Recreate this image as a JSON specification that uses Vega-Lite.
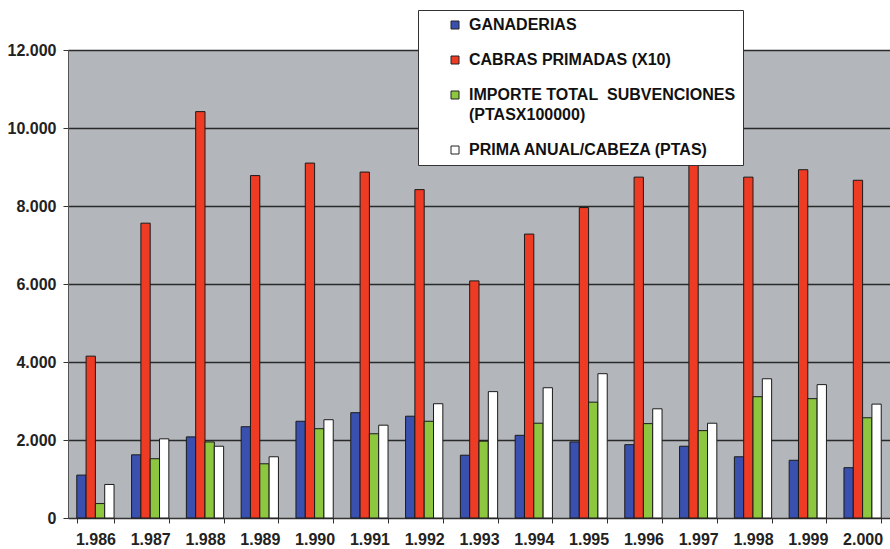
{
  "$schema": "https://vega.github.io/schema/vega-lite/v6.json",
  "width": 822,
  "height": 468,
  "autosize": "none",
  "padding": {"left": 68, "top": 50, "right": 0, "bottom": 31},
  "background": "#ffffff",
  "config": {
    "view": {"fill": "#b3b7bb", "stroke": "#d8d8d8", "strokeWidth": 1},
    "font": "Liberation Sans"
  },
  "data": {"values": [
    {"year": "1.986", "serie": "GANADERIAS", "v": 1100},
    {"year": "1.986", "serie": "CABRAS PRIMADAS (X10)", "v": 4150},
    {"year": "1.986", "serie": "IMPORTE TOTAL  SUBVENCIONES (PTASX100000)", "v": 370},
    {"year": "1.986", "serie": "PRIMA ANUAL/CABEZA (PTAS)", "v": 860},
    {"year": "1.987", "serie": "GANADERIAS", "v": 1620},
    {"year": "1.987", "serie": "CABRAS PRIMADAS (X10)", "v": 7560},
    {"year": "1.987", "serie": "IMPORTE TOTAL  SUBVENCIONES (PTASX100000)", "v": 1520},
    {"year": "1.987", "serie": "PRIMA ANUAL/CABEZA (PTAS)", "v": 2030},
    {"year": "1.988", "serie": "GANADERIAS", "v": 2080},
    {"year": "1.988", "serie": "CABRAS PRIMADAS (X10)", "v": 10420},
    {"year": "1.988", "serie": "IMPORTE TOTAL  SUBVENCIONES (PTASX100000)", "v": 1950},
    {"year": "1.988", "serie": "PRIMA ANUAL/CABEZA (PTAS)", "v": 1840},
    {"year": "1.989", "serie": "GANADERIAS", "v": 2340},
    {"year": "1.989", "serie": "CABRAS PRIMADAS (X10)", "v": 8780},
    {"year": "1.989", "serie": "IMPORTE TOTAL  SUBVENCIONES (PTASX100000)", "v": 1390},
    {"year": "1.989", "serie": "PRIMA ANUAL/CABEZA (PTAS)", "v": 1570},
    {"year": "1.990", "serie": "GANADERIAS", "v": 2480},
    {"year": "1.990", "serie": "CABRAS PRIMADAS (X10)", "v": 9100},
    {"year": "1.990", "serie": "IMPORTE TOTAL  SUBVENCIONES (PTASX100000)", "v": 2290},
    {"year": "1.990", "serie": "PRIMA ANUAL/CABEZA (PTAS)", "v": 2520},
    {"year": "1.991", "serie": "GANADERIAS", "v": 2700},
    {"year": "1.991", "serie": "CABRAS PRIMADAS (X10)", "v": 8870},
    {"year": "1.991", "serie": "IMPORTE TOTAL  SUBVENCIONES (PTASX100000)", "v": 2160},
    {"year": "1.991", "serie": "PRIMA ANUAL/CABEZA (PTAS)", "v": 2380},
    {"year": "1.992", "serie": "GANADERIAS", "v": 2610},
    {"year": "1.992", "serie": "CABRAS PRIMADAS (X10)", "v": 8420},
    {"year": "1.992", "serie": "IMPORTE TOTAL  SUBVENCIONES (PTASX100000)", "v": 2480},
    {"year": "1.992", "serie": "PRIMA ANUAL/CABEZA (PTAS)", "v": 2930},
    {"year": "1.993", "serie": "GANADERIAS", "v": 1610},
    {"year": "1.993", "serie": "CABRAS PRIMADAS (X10)", "v": 6080},
    {"year": "1.993", "serie": "IMPORTE TOTAL  SUBVENCIONES (PTASX100000)", "v": 1970},
    {"year": "1.993", "serie": "PRIMA ANUAL/CABEZA (PTAS)", "v": 3240},
    {"year": "1.994", "serie": "GANADERIAS", "v": 2120},
    {"year": "1.994", "serie": "CABRAS PRIMADAS (X10)", "v": 7280},
    {"year": "1.994", "serie": "IMPORTE TOTAL  SUBVENCIONES (PTASX100000)", "v": 2430},
    {"year": "1.994", "serie": "PRIMA ANUAL/CABEZA (PTAS)", "v": 3340},
    {"year": "1.995", "serie": "GANADERIAS", "v": 1950},
    {"year": "1.995", "serie": "CABRAS PRIMADAS (X10)", "v": 7960},
    {"year": "1.995", "serie": "IMPORTE TOTAL  SUBVENCIONES (PTASX100000)", "v": 2970},
    {"year": "1.995", "serie": "PRIMA ANUAL/CABEZA (PTAS)", "v": 3700},
    {"year": "1.996", "serie": "GANADERIAS", "v": 1880},
    {"year": "1.996", "serie": "CABRAS PRIMADAS (X10)", "v": 8740},
    {"year": "1.996", "serie": "IMPORTE TOTAL  SUBVENCIONES (PTASX100000)", "v": 2420},
    {"year": "1.996", "serie": "PRIMA ANUAL/CABEZA (PTAS)", "v": 2800},
    {"year": "1.997", "serie": "GANADERIAS", "v": 1840},
    {"year": "1.997", "serie": "CABRAS PRIMADAS (X10)", "v": 9250},
    {"year": "1.997", "serie": "IMPORTE TOTAL  SUBVENCIONES (PTASX100000)", "v": 2240},
    {"year": "1.997", "serie": "PRIMA ANUAL/CABEZA (PTAS)", "v": 2430},
    {"year": "1.998", "serie": "GANADERIAS", "v": 1570},
    {"year": "1.998", "serie": "CABRAS PRIMADAS (X10)", "v": 8740},
    {"year": "1.998", "serie": "IMPORTE TOTAL  SUBVENCIONES (PTASX100000)", "v": 3110},
    {"year": "1.998", "serie": "PRIMA ANUAL/CABEZA (PTAS)", "v": 3570},
    {"year": "1.999", "serie": "GANADERIAS", "v": 1480},
    {"year": "1.999", "serie": "CABRAS PRIMADAS (X10)", "v": 8930},
    {"year": "1.999", "serie": "IMPORTE TOTAL  SUBVENCIONES (PTASX100000)", "v": 3060},
    {"year": "1.999", "serie": "PRIMA ANUAL/CABEZA (PTAS)", "v": 3420},
    {"year": "2.000", "serie": "GANADERIAS", "v": 1290},
    {"year": "2.000", "serie": "CABRAS PRIMADAS (X10)", "v": 8660},
    {"year": "2.000", "serie": "IMPORTE TOTAL  SUBVENCIONES (PTASX100000)", "v": 2570},
    {"year": "2.000", "serie": "PRIMA ANUAL/CABEZA (PTAS)", "v": 2920}
  ]},
  "mark": {"type": "bar", "stroke": "#1a1a1a", "strokeWidth": 1},
  "encoding": {
    "x": {
      "field": "year", "type": "nominal", "sort": null,
      "scale": {"paddingInner": 0.32, "paddingOuter": 0.16},
      "axis": {
        "title": null, "labelAngle": 0, "tickBand": "extent",
        "domainColor": "#333", "tickColor": "#333", "tickSize": 5,
        "labelFont": "Liberation Sans", "labelFontWeight": "bold", "labelFontSize": 16,
        "labelColor": "#222", "labelPadding": 8, "grid": false
      }
    },
    "xOffset": {
      "field": "serie", "type": "nominal",
      "sort": ["GANADERIAS", "CABRAS PRIMADAS (X10)", "IMPORTE TOTAL  SUBVENCIONES (PTASX100000)", "PRIMA ANUAL/CABEZA (PTAS)"],
      "scale": {"paddingInner": 0, "paddingOuter": 0}
    },
    "y": {
      "field": "v", "type": "quantitative",
      "scale": {"domain": [0, 12000], "nice": false},
      "axis": {
        "title": null, "values": [0, 2000, 4000, 6000, 8000, 10000, 12000],
        "labelExpr": "replace(format(datum.value, ','), ',', '.')",
        "grid": true, "gridColor": "#2a2a2a", "gridWidth": 1.3, "gridOpacity": 1,
        "domainColor": "#555", "tickColor": "#333", "tickSize": 5,
        "labelFont": "Liberation Sans", "labelFontWeight": "bold", "labelFontSize": 16,
        "labelColor": "#222", "labelPadding": 7
      }
    },
    "color": {
      "field": "serie", "type": "nominal",
      "sort": ["GANADERIAS", "CABRAS PRIMADAS (X10)", "IMPORTE TOTAL  SUBVENCIONES (PTASX100000)", "PRIMA ANUAL/CABEZA (PTAS)"],
      "scale": {"range": ["#3a50ae", "#ee3b24", "#8dc63f", "#ffffff"]},
      "legend": {
        "title": null, "orient": "none", "legendX": 350, "legendY": -40,
        "fillColor": "#ffffff", "strokeColor": "#333", "padding": 7,
        "symbolType": "square", "symbolSize": 64, "symbolStrokeColor": "#222", "symbolStrokeWidth": 1,
        "symbolOffset": 22,
        "labelFont": "Liberation Sans", "labelFontWeight": "bold", "labelFontSize": 16,
        "labelColor": "#111", "labelOffset": 6, "labelLimit": 400,
        "rowPadding": 19,
        "labelExpr": "datum.label == 'IMPORTE TOTAL  SUBVENCIONES (PTASX100000)' ? ['IMPORTE TOTAL\u00a0\u00a0SUBVENCIONES', '(PTASX100000)'] : datum.label",
        "encode": {"labels": {"update": {"lineHeight": {"value": 20}}}}
      }
    }
  }
}
